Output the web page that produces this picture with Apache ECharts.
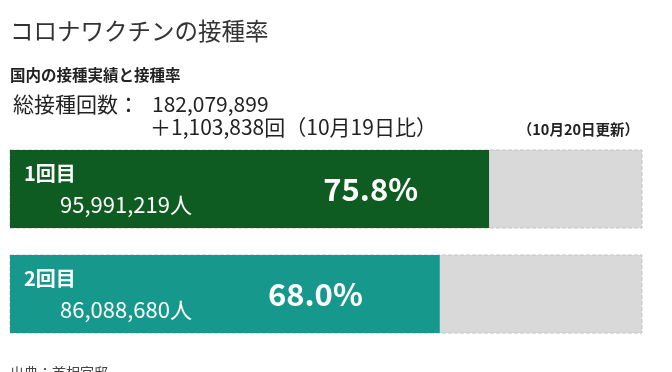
<!DOCTYPE html>
<html><head><meta charset="utf-8">
<script src="https://cdn.jsdelivr.net/npm/echarts@6/dist/echarts.min.js"></script>
<style>html,body{margin:0;padding:0;background:#fff}#c{width:672px;height:372px}</style>
</head><body><div id="c"></div>
<script>
const categories = ['1回目', '2回目'];
const rates = [75.8, 68.0];
const people = ['95,991,219人', '86,088,680人'];
const barColors = ['#0e5c22', '#17988c'];
const maxRate = 100;
const titleText = 'コロナワクチンの接種率';
const subtitleText = '国内の接種実績と接種率';
const totalLabel = '総接種回数：';
const totalValue = '182,079,899';
const diffText = '＋1,103,838回（10月19日比）';
const updateText = '（10月20日更新）';
const sourceText = '出典：首相官邸';

const FONT = '"Noto Sans CJK JP", "Noto Sans", sans-serif';
const PCT_INSET = [71, 77];
const chart = echarts.init(document.getElementById('c'), null, {renderer: 'canvas'});
chart.setOption({
  animation: false,
  backgroundColor: '#ffffff',
  textStyle: {fontFamily: FONT},
  grid: {left: 10, right: 30, top: 136.5, bottom: 25.5, containLabel: false},
  xAxis: {type: 'value', min: 0, max: maxRate, show: false},
  yAxis: {type: 'category', data: categories, inverse: true, show: false},
  graphic: [
    {type: 'text', left: 10, top: 19, style: {text: titleText, font: '400 23.5px ' + FONT, fill: '#333'}},
    {type: 'text', left: 10, top: 67, style: {text: subtitleText, font: '700 15.5px ' + FONT, fill: '#222'}},
    {type: 'text', left: 13, top: 94, style: {text: totalLabel, font: '400 21px ' + FONT, fill: '#222'}},
    {type: 'text', left: 152, top: 94, style: {text: totalValue, font: '400 21px ' + FONT, fill: '#222'}},
    {type: 'text', left: 150, top: 117, style: {text: diffText, font: '400 21px ' + FONT, fill: '#222'}},
    {type: 'text', right: 33, top: 122, style: {text: updateText, font: '700 14.5px ' + FONT, fill: '#222'}},
    {type: 'text', left: 10, top: 366, style: {text: sourceText, font: '400 14px ' + FONT, fill: '#444'}}
  ],
  series: [
    {
      type: 'bar',
      barWidth: 78,
      data: rates.map((v, i) => ({value: v, itemStyle: {color: barColors[i]}, label: {distance: PCT_INSET[i]}})),
      showBackground: true,
      backgroundStyle: {color: '#d9d9d9', borderColor: '#c4c4c4', borderWidth: 1, borderType: 'dashed'},
      label: {
        show: true, position: 'insideRight', distance: 71,
        formatter: p => p.value.toFixed(1) + '%',
        color: '#fff', fontSize: 31, fontWeight: 'bold', fontFamily: FONT
      }
    },
    {
      type: 'bar',
      barWidth: 78,
      barGap: '-100%',
      data: rates,
      itemStyle: {color: 'rgba(0,0,0,0)'},
      label: {
        show: true, position: 'insideLeft', distance: 14,
        formatter: p => '{a|' + categories[p.dataIndex] + '}\n{b|' + people[p.dataIndex] + '}',
        rich: {
          a: {color: '#fff', fontSize: 20, fontWeight: 'bold', fontFamily: FONT, lineHeight: 32},
          b: {color: '#fff', fontSize: 22, fontFamily: FONT, lineHeight: 32, padding: [0, 0, 0, 36]}
        }
      }
    }
  ]
});
</script></body></html>
